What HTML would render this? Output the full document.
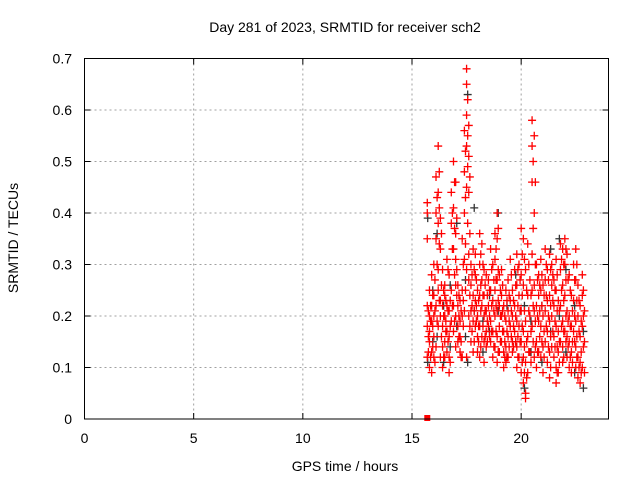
<!DOCTYPE html>
<html><head><meta charset="utf-8"><style>
body{margin:0;background:#fff}
svg{font-family:"Liberation Sans",sans-serif;font-size:14px}
</style></head><body>
<svg id="chart" width="640" height="480" viewBox="0 0 640 480" xmlns="http://www.w3.org/2000/svg">
<text x="345" y="32" text-anchor="middle">Day 281 of 2023, SRMTID for receiver sch2</text>
<text x="345" y="471" text-anchor="middle">GPS time / hours</text>
<text transform="translate(18,238) rotate(-90)" text-anchor="middle">SRMTID / TECUs</text>
<g id="grid"></g>
<g id="ticks"></g>
<g id="black"></g>
<g id="red"></g>
<rect x="84.5" y="58.5" width="524" height="360.5" fill="none" stroke="#000"/>
</svg>
<script>
const xTicks=[0,5,10,15,20];
const yTicks=[0,0.1,0.2,0.3,0.4,0.5,0.6,0.7];
const yTickLabels=["0","0.1","0.2","0.3","0.4","0.5","0.6","0.7"];
const redTimes=[15.7,15.8,15.9,16.0,16.1,16.2,16.3,16.4,16.5,16.6,16.7,16.8,16.9,17.0,17.1,17.2,17.3,17.4,17.5,17.6,17.7,17.8,17.9,18.0,18.1,18.2,18.3,18.4,18.5,18.6,18.7,18.8,18.9,19.0,19.1,19.2,19.3,19.4,19.5,19.6,19.7,19.8,19.9,20.0,20.1,20.2,20.3,20.4,20.5,20.6,20.7,20.8,20.9,21.0,21.1,21.2,21.3,21.4,21.5,21.6,21.7,21.8,21.9,22.0,22.1,22.2,22.3,22.4,22.5,22.6,22.7,22.8,22.9];
const redValues=[[0.42,0.40,0.22,0.18,0.12,0.35],[0.20,0.15,0.10,0.25,0.17],[0.22,0.13,0.19,0.28,0.09],[0.24,0.16,0.12,0.30,0.20],[0.47,0.40,0.35,0.22,0.14],[0.53,0.44,0.38,0.29,0.25,0.18],[0.39,0.33,0.23,0.20,0.12],[0.29,0.22,0.18,0.14,0.10],[0.26,0.24,0.20,0.15,0.12],[0.31,0.22,0.17,0.13],[0.28,0.21,0.16,0.12,0.09],[0.44,0.38,0.25,0.19],[0.50,0.41,0.33,0.22,0.17],[0.46,0.36,0.31,0.26,0.20,0.14],[0.26,0.22,0.18,0.15],[0.23,0.19,0.16,0.13],[0.35,0.25,0.20,0.12],[0.56,0.48,0.40,0.31,0.21],[0.68,0.65,0.59,0.53,0.45,0.29,0.12],[0.57,0.51,0.44,0.32,0.27,0.20],[0.30,0.26,0.21,0.15],[0.33,0.24,0.19,0.13],[0.32,0.28,0.23,0.18],[0.25,0.20,0.16,0.13],[0.36,0.30,0.24,0.18,0.12],[0.34,0.27,0.22,0.16],[0.29,0.24,0.20,0.15,0.11],[0.28,0.21,0.17,0.14],[0.27,0.22,0.18],[0.33,0.25,0.19,0.15],[0.30,0.23,0.17,0.12],[0.36,0.31,0.25,0.20,0.14],[0.40,0.35,0.27,0.21,0.16,0.11],[0.28,0.22,0.18,0.13],[0.29,0.24,0.20,0.15],[0.22,0.17,0.13,0.10],[0.25,0.19,0.14,0.11],[0.27,0.21,0.16,0.12],[0.31,0.23,0.18],[0.25,0.20,0.15,0.13],[0.29,0.22,0.17],[0.32,0.26,0.19,0.14,0.10],[0.30,0.24,0.18,0.12],[0.37,0.28,0.21,0.15,0.09],[0.35,0.26,0.17,0.12,0.07],[0.29,0.19,0.11,0.05,0.04],[0.34,0.24,0.16,0.09],[0.27,0.20,0.13],[0.58,0.53,0.46,0.32,0.25,0.18],[0.55,0.40,0.26,0.21,0.12],[0.30,0.22,0.15,0.10],[0.28,0.24,0.19,0.13],[0.31,0.25,0.18,0.12],[0.26,0.20,0.14,0.09],[0.33,0.27,0.21,0.15],[0.29,0.23,0.17,0.11],[0.32,0.24,0.19,0.13,0.08],[0.30,0.26,0.20,0.14],[0.27,0.22,0.16,0.12],[0.31,0.25,0.18,0.10,0.07],[0.23,0.17,0.13,0.09],[0.34,0.29,0.22,0.15],[0.33,0.26,0.19,0.14,0.11],[0.35,0.30,0.24,0.17],[0.32,0.21,0.16,0.12],[0.28,0.20,0.15,0.10],[0.24,0.18,0.13,0.09],[0.30,0.23,0.17],[0.33,0.27,0.19,0.14,0.10],[0.26,0.20,0.12,0.08],[0.22,0.16,0.11,0.07],[0.28,0.24,0.18,0.10],[0.21,0.15,0.09]];
const redTimes2=[15.75,15.85,15.95,16.05,16.15,16.25,16.35,16.45,16.55,16.65,16.75,16.85,16.95,17.05,17.15,17.25,17.35,17.45,17.55,17.65,17.75,17.85,17.95,18.05,18.15,18.25,18.35,18.45,18.55,18.65,18.75,18.85,18.95,19.05,19.15,19.25,19.35,19.45,19.55,19.65,19.75,19.85,19.95,20.05,20.15,20.25,20.35,20.45,20.55,20.65,20.75,20.85,20.95,21.05,21.15,21.25,21.35,21.45,21.55,21.65,21.75,21.85,21.95,22.05,22.15,22.25,22.35,22.45,22.55,22.65,22.75,22.85];
const redValues2=[[0.21,0.16,0.13],[0.19,0.12,0.22],[0.18,0.14,0.24],[0.27,0.21,0.11],[0.43,0.30,0.19],[0.48,0.41,0.34,0.23],[0.36,0.26,0.16],[0.25,0.20,0.12],[0.23,0.19,0.17],[0.29,0.21,0.15],[0.23,0.18,0.11],[0.40,0.33,0.22],[0.46,0.37,0.28,0.19],[0.39,0.29,0.24],[0.24,0.20,0.16],[0.21,0.15,0.12],[0.30,0.23,0.18],[0.52,0.43,0.34,0.25],[0.62,0.55,0.49,0.38],[0.47,0.36,0.24,0.18],[0.28,0.22,0.17],[0.29,0.21,0.15],[0.27,0.22,0.19],[0.23,0.18,0.15],[0.32,0.26,0.21,0.14],[0.30,0.24,0.18],[0.26,0.21,0.16],[0.24,0.19,0.15],[0.25,0.20,0.16],[0.29,0.22,0.17],[0.27,0.21,0.14],[0.33,0.27,0.22,0.17],[0.37,0.29,0.23,0.13],[0.25,0.20,0.15],[0.26,0.21,0.17],[0.20,0.15,0.12],[0.23,0.17,0.12],[0.24,0.19,0.14],[0.28,0.21,0.16],[0.23,0.18,0.14],[0.26,0.20,0.15],[0.29,0.22,0.16,0.12],[0.27,0.21,0.15],[0.32,0.24,0.18,0.11],[0.31,0.21,0.14,0.09],[0.25,0.15,0.08],[0.30,0.21,0.13],[0.24,0.17,0.11],[0.50,0.37,0.22,0.15],[0.46,0.30,0.19,0.14],[0.27,0.20,0.13],[0.26,0.21,0.16],[0.28,0.22,0.15],[0.24,0.17,0.12],[0.30,0.24,0.18],[0.27,0.20,0.14],[0.29,0.22,0.16,0.10],[0.28,0.23,0.17],[0.25,0.19,0.14],[0.28,0.21,0.14,0.09],[0.21,0.15,0.11],[0.31,0.25,0.18],[0.30,0.23,0.17,0.12],[0.33,0.27,0.20,0.15],[0.27,0.19,0.14],[0.25,0.18,0.12],[0.21,0.15,0.11],[0.27,0.20,0.15],[0.30,0.23,0.16,0.12],[0.23,0.17,0.10],[0.19,0.13,0.09],[0.25,0.20,0.14]];
const blackTimes=[15.72,15.95,16.15,16.45,16.75,17.05,17.45,17.55,17.85,18.25,18.55,18.95,19.35,19.75,20.15,20.45,20.95,21.35,21.75,22.05,22.45,22.85];
const blackValues=[[0.39,0.11],[0.15,0.25],[0.36,0.16],[0.22,0.11],[0.14,0.26],[0.38,0.18],[0.27,0.16],[0.63,0.11],[0.41,0.21],[0.19,0.13],[0.24,0.17],[0.40,0.21],[0.22,0.12],[0.28,0.15],[0.22,0.06],[0.19,0.13],[0.22,0.11],[0.33,0.17],[0.35,0.20],[0.29,0.13],[0.22,0.09],[0.17,0.06]];
const zeroTimes=[15.7];
const zeroValues=[0];
const X0=84.5,X1=608.5,Y0=419,Y1=58.5;
const xs=v=>X0+(v/24)*(X1-X0);
const ys=v=>Y0-(v/0.7)*(Y0-Y1);
const NS="http://www.w3.org/2000/svg";
function mk(tag,attrs,parent){const e=document.createElementNS(NS,tag);for(const k in attrs)e.setAttribute(k,attrs[k]);parent.appendChild(e);return e;}
const grid=document.getElementById('grid'),ticks=document.getElementById('ticks');
xTicks.forEach(t=>{const x=xs(t);
 if(t>0){const g=mk('line',{x1:x,x2:x,y1:Y1,y2:Y0,stroke:'#a0a0a0','stroke-dasharray':'2,3'},grid);
 
 }
 mk('line',{x1:x,x2:x,y1:Y0,y2:Y0-6,stroke:'#000'},ticks);
 mk('line',{x1:x,x2:x,y1:Y1,y2:Y1+6,stroke:'#000'},ticks);
 const l=mk('text',{x:x,y:443,'text-anchor':'middle'},ticks);l.textContent=String(t);
 
 });
yTicks.forEach((t,i)=>{const y=ys(t);
 if(t>0&&t<0.7){const g=mk('line',{x1:X0,x2:X1,y1:y,y2:y,stroke:'#a0a0a0','stroke-dasharray':'2,3'},grid);
 
 }
 mk('line',{x1:X0,x2:X0+6,y1:y,y2:y,stroke:'#000'},ticks);
 mk('line',{x1:X1,x2:X1-6,y1:y,y2:y,stroke:'#000'},ticks);
 const l=mk('text',{x:72,y:y+5,'text-anchor':'end'},ticks);l.textContent=yTickLabels[i];
 
 });
function plus(parent,x,y,c){const p=mk('path',{d:`M${x-4},${y}H${x+4}M${x},${y-4}V${y+4}`,stroke:c,'stroke-width':1.3},parent);
 
 }
const bl=document.getElementById('black'),rd=document.getElementById('red');
blackTimes.forEach((t,i)=>blackValues[i].forEach(v=>plus(bl,xs(t),ys(v),'#333')));
redTimes.forEach((t,i)=>redValues[i].forEach(v=>plus(rd,xs(t),ys(v),'#f00')));
redTimes2.forEach((t,i)=>redValues2[i].forEach(v=>plus(rd,xs(t),ys(v),'#f00')));
zeroTimes.forEach((t,i)=>{const r=mk('rect',{x:xs(t)-3,y:ys(zeroValues[i])-4,width:6,height:6,fill:'#f00'},rd);
 
 });
</script>
</body></html>
